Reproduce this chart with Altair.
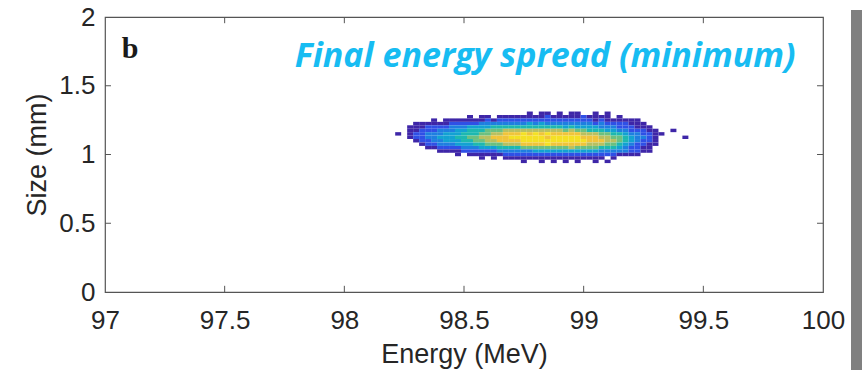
import altair as alt
import pandas as pd

# ---- data ----
# beam intensity map: rows from top (Size = 1.300 mm) downward in 0.025 mm steps,
# columns from Energy = 98.225 MeV rightward in 0.025 MeV steps; digit = intensity level (0 = none)
size_top = 1.300
size_step = 0.025
energy_first = 98.225
energy_step = 0.025
intensity_rows = [
    "00000000000000000000001011010110010100000000000000",
    "00000000000010110111111112111112111101000000000000",
    "00000010111111121222222222222222212111111000000000",
    "00011111122222333333334343333333323222211100000000",
    "00111222233344445555555555554544443332221110000000",
    "00112223334455566677777777776766555443322211001000",
    "10122333444555667788898989888887776655433221100000",
    "00122334445566778889999998999998887766543321000010",
    "00012233444556677888899999999999888776543221000000",
    "00001223334445566677788889888888777665432211000000",
    "00000112222333444555566666666766665554322110000000",
    "00000001111222222333333444444444443333322110000000",
    "00000000001011111122222222222222222221111000000000",
    "00000000000000101011111111111111111010000000000000",
    "00000000000000000000010010101010010100000000000000",
]
levels = ["1", "2", "3", "4", "5", "6", "7", "8", "9"]
parula = ["#3E26A8", "#2F50E6", "#1E7FE0", "#12A2D2", "#1DB8B0",
          "#6CC080", "#B8C060", "#F0C43A", "#F4E024"]

x_ticks = [97, 97.5, 98, 98.5, 99, 99.5, 100]
y_ticks = [0, 0.5, 1, 1.5, 2]
x_inner_ticks = [97.5, 98, 98.5, 99, 99.5]
y_inner_ticks = [0.5, 1, 1.5]

panel_label = "b"
panel_label_pos = (97.07, 1.70)
note_text = "Final energy spread (minimum)"
note_pos = (99.885, 1.64)

# ---- build table ----
cells = []
for r, row in enumerate(intensity_rows):
    yc = size_top - r * size_step
    for c, ch in enumerate(row):
        if ch == "0":
            continue
        xc = energy_first + c * energy_step
        cells.append({
            "e0": xc - energy_step / 2, "e1": xc + energy_step / 2,
            "s0": yc - size_step / 2, "s1": yc + size_step / 2,
            "lvl": ch,
        })
df = pd.DataFrame(cells)

W, H = 718, 275
xs = alt.Scale(domain=[97, 100], nice=False, zero=False)
ys = alt.Scale(domain=[0, 2], nice=False, zero=False)

heat = alt.Chart(df).mark_rect(strokeWidth=0).encode(
    x=alt.X("e0:Q", scale=xs, axis=alt.Axis(
        values=x_ticks, format="~g", title="Energy (MeV)", labelFlush=False,
        titleX=W / 2, titleY=70, titleBaseline="alphabetic", titleAlign="center")),
    x2="e1:Q",
    y=alt.Y("s0:Q", scale=ys, axis=alt.Axis(
        values=y_ticks, format="~g", title="Size (mm)", labelFlush=False,
        titleX=-68, titleY=H / 2, titleAngle=270, titleBaseline="middle", titleAlign="center")),
    y2="s1:Q",
    color=alt.Color("lvl:N", scale=alt.Scale(domain=levels, range=parula), legend=None),
)

tick_col = "#555555"
bt = pd.DataFrame({"x": x_inner_ticks})
bottom_ticks = alt.Chart(bt).mark_rule(color=tick_col, strokeWidth=1).encode(
    x=alt.X("x:Q", scale=xs), y=alt.datum(0), y2=alt.datum(0.045))
top_ticks = alt.Chart(bt).mark_rule(color=tick_col, strokeWidth=1).encode(
    x=alt.X("x:Q", scale=xs), y=alt.datum(2), y2=alt.datum(1.955))
lt = pd.DataFrame({"y": y_inner_ticks})
left_ticks = alt.Chart(lt).mark_rule(color=tick_col, strokeWidth=1).encode(
    y=alt.Y("y:Q", scale=ys), x=alt.datum(97), x2=alt.datum(97.025))
right_ticks = alt.Chart(lt).mark_rule(color=tick_col, strokeWidth=1).encode(
    y=alt.Y("y:Q", scale=ys), x=alt.datum(100), x2=alt.datum(99.975))

lab = alt.Chart(pd.DataFrame({"x": [panel_label_pos[0]], "y": [panel_label_pos[1]], "t": [panel_label]})).mark_text(
    font="Liberation Serif", fontWeight="bold", fontSize=30, align="left", baseline="alphabetic", color="#1a1a1a"
).encode(x=alt.X("x:Q", scale=xs), y=alt.Y("y:Q", scale=ys), text="t:N")

note = alt.Chart(pd.DataFrame({"x": [note_pos[0]], "y": [note_pos[1]], "t": [note_text]})).mark_text(
    font="Open Sans", fontWeight="bold", fontStyle="italic", fontSize=34, align="right",
    baseline="alphabetic", color="#17BCF2"
).encode(x=alt.X("x:Q", scale=xs), y=alt.Y("y:Q", scale=ys), text="t:N")

side_bar = alt.Chart(pd.DataFrame({"k": [0]})).mark_rect(color="#808080").encode(
    x=alt.value(746), x2=alt.value(757), y=alt.value(-7), y2=alt.value(353))

chart = alt.layer(heat, bottom_ticks, top_ticks, left_ticks, right_ticks, lab, note, side_bar).properties(
    width=W, height=H,
    autosize=alt.AutoSizeParams(type="none"),
    padding={"left": 105, "top": 17, "right": 39, "bottom": 78},
    background="white",
).configure_view(stroke="#555555", strokeWidth=1.2).configure_axis(
    domain=False, ticks=False, grid=False,
    labelFont="Liberation Sans", labelFontSize=26, labelColor="#262626",
    titleFont="Liberation Sans", titleFontSize=27, titleColor="#262626", titleFontWeight="normal",
).configure_axisX(labelPadding=15).configure_axisY(labelPadding=10)

chart.save("out.html", embed_options={"renderer": "svg", "actions": False})
